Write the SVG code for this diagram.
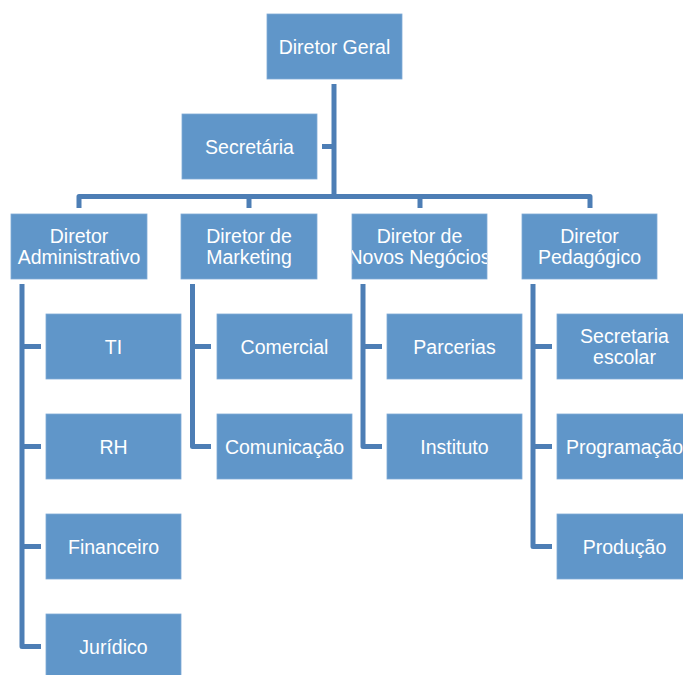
<svg xmlns="http://www.w3.org/2000/svg" width="683" height="675" viewBox="0 0 683 675">
<defs>
<style>
.box{fill:#6096C9;stroke:#7FAAD6;stroke-width:0.8}
.t{font-family:"Liberation Sans",Arial,sans-serif;font-size:19.5px;fill:#ffffff;text-anchor:middle}
.c{fill:none;stroke:#4D7EB5;stroke-width:5;stroke-linejoin:round}
</style>
<clipPath id="clipNovos"><rect x="352" y="214" width="135" height="65"/></clipPath>
</defs>
<rect width="683" height="675" fill="#ffffff"/>
<g id="connectors">
<path class="c" d="M334,84 V196.5"/>
<path class="c" d="M322,146.5 H334"/>
<path class="c" d="M79,208 V196.5 H590 V208"/>
<path class="c" d="M249,196.5 V208"/>
<path class="c" d="M420,196.5 V208"/>
<path class="c" d="M22,284 V646.5 H41"/>
<path class="c" d="M22,346.5 H41 M22,446.5 H41 M22,546.5 H41"/>
<path class="c" d="M192.5,284 V446.5 H211"/>
<path class="c" d="M192.5,346.5 H211"/>
<path class="c" d="M363,284 V446.5 H382"/>
<path class="c" d="M363,346.5 H382"/>
<path class="c" d="M533,284 V546.5 H552"/>
<path class="c" d="M533,346.5 H552 M533,446.5 H552"/>
</g>
<g id="diretor-geral"><rect class="box" x="267" y="14" width="135" height="65"/><text class="t" x="334.5" y="54">Diretor Geral</text></g>
<g id="secretaria"><rect class="box" x="182" y="114" width="135" height="65"/><text class="t" x="249.5" y="154">Secretária</text></g>
<g id="dir-adm"><rect class="box" x="11" y="214" width="136" height="65"/><text class="t" x="79" y="243">Diretor</text><text class="t" x="79" y="264">Administrativo</text></g>
<g id="dir-mkt"><rect class="box" x="181" y="214" width="136" height="65"/><text class="t" x="249" y="243">Diretor de</text><text class="t" x="249" y="264">Marketing</text></g>
<g id="dir-novos"><rect class="box" x="352" y="214" width="135" height="65"/><g clip-path="url(#clipNovos)"><text class="t" x="419.5" y="243">Diretor de</text><text class="t" x="419.5" y="264">Novos Negócios</text></g></g>
<g id="dir-ped"><rect class="box" x="522" y="214" width="135" height="65"/><text class="t" x="589.5" y="243">Diretor</text><text class="t" x="589.5" y="264">Pedagógico</text></g>
<g id="ti"><rect class="box" x="46" y="314" width="135" height="65"/><text class="t" x="113.5" y="354">TI</text></g>
<g id="rh"><rect class="box" x="46" y="414" width="135" height="65"/><text class="t" x="113.5" y="454">RH</text></g>
<g id="financeiro"><rect class="box" x="46" y="514" width="135" height="65"/><text class="t" x="113.5" y="554">Financeiro</text></g>
<g id="juridico"><rect class="box" x="46" y="614" width="135" height="65"/><text class="t" x="113.5" y="654">Jurídico</text></g>
<g id="comercial"><rect class="box" x="217" y="314" width="135" height="65"/><text class="t" x="284.5" y="354">Comercial</text></g>
<g id="comunicacao"><rect class="box" x="217" y="414" width="135" height="65"/><text class="t" x="284.5" y="454">Comunicação</text></g>
<g id="parcerias"><rect class="box" x="387" y="314" width="135" height="65"/><text class="t" x="454.5" y="354">Parcerias</text></g>
<g id="instituto"><rect class="box" x="387" y="414" width="135" height="65"/><text class="t" x="454.5" y="454">Instituto</text></g>
<g id="secretaria-escolar"><rect class="box" x="557" y="314" width="135" height="65"/><text class="t" x="624.5" y="343">Secretaria</text><text class="t" x="624.5" y="364">escolar</text></g>
<g id="programacao"><rect class="box" x="557" y="414" width="135" height="65"/><text class="t" x="624.5" y="454">Programação</text></g>
<g id="producao"><rect class="box" x="557" y="514" width="135" height="65"/><text class="t" x="624.5" y="554">Produção</text></g>
</svg>
